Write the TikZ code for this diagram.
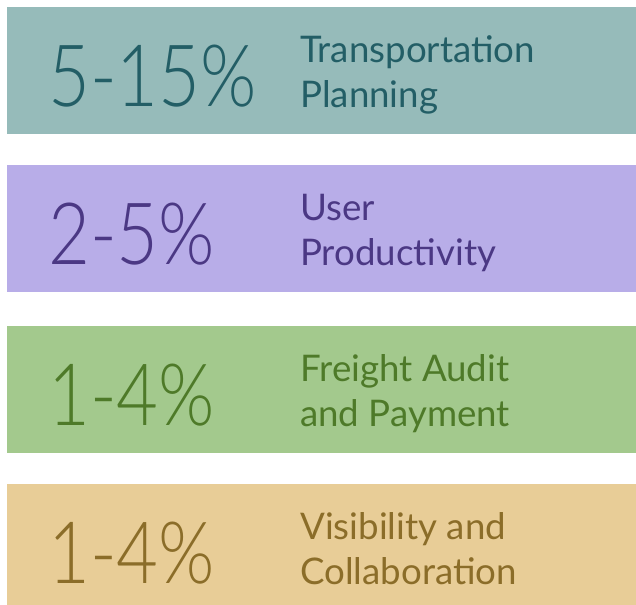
\documentclass[tikz,border=0pt]{standalone}
\usepackage{fontspec}
\setmainfont{Lato}
\newfontfamily\numfont{Lato Light}[FakeStretch=0.84]
\definecolor{tealbg}{HTML}{96BBBA}
\definecolor{tealfg}{HTML}{235E66}
\definecolor{lilacbg}{HTML}{B8ADE8}
\definecolor{lilacfg}{HTML}{4B3884}
\definecolor{greenbg}{HTML}{A3C98D}
\definecolor{greenfg}{HTML}{4E7A29}
\definecolor{sandbg}{HTML}{E8CD97}
\definecolor{sandfg}{HTML}{8B6D29}

\begin{document}
\begin{tikzpicture}[x=0.75pt,y=-0.75pt,
	bignum/.style={anchor=base west, inner sep=0pt, font=\numfont\fontsize{64.5}{64.5}\selectfont},
	caption/.style={anchor=base west, inner sep=0pt, align=left, font=\fontsize{27.5}{33.75}\selectfont}]
	\useasboundingbox (0,0) rectangle (636,605);
	% Bands with percentage and label
	\foreach \i/\top/\c/\num/\la/\lb in {1/7/teal/5-15/Transportation/Planning,
		2/165/lilac/2-5/User/Productivity,
		3/326/green/1-4/Freight Audit/and Payment,
		4/484/sand/1-4/Visibility and/Collaboration}
	{
	\fill[\c bg] (7,\top) rectangle (636,{min(\top+127,605)});
	\node[bignum, text=\c fg] (pct\i) at (48,\top+100) {\num\%};
	\node[caption, text=\c fg] (lbl\i) at (300,\top+101) {\la\\\lb};
	}
\end{tikzpicture}
\end{document}
